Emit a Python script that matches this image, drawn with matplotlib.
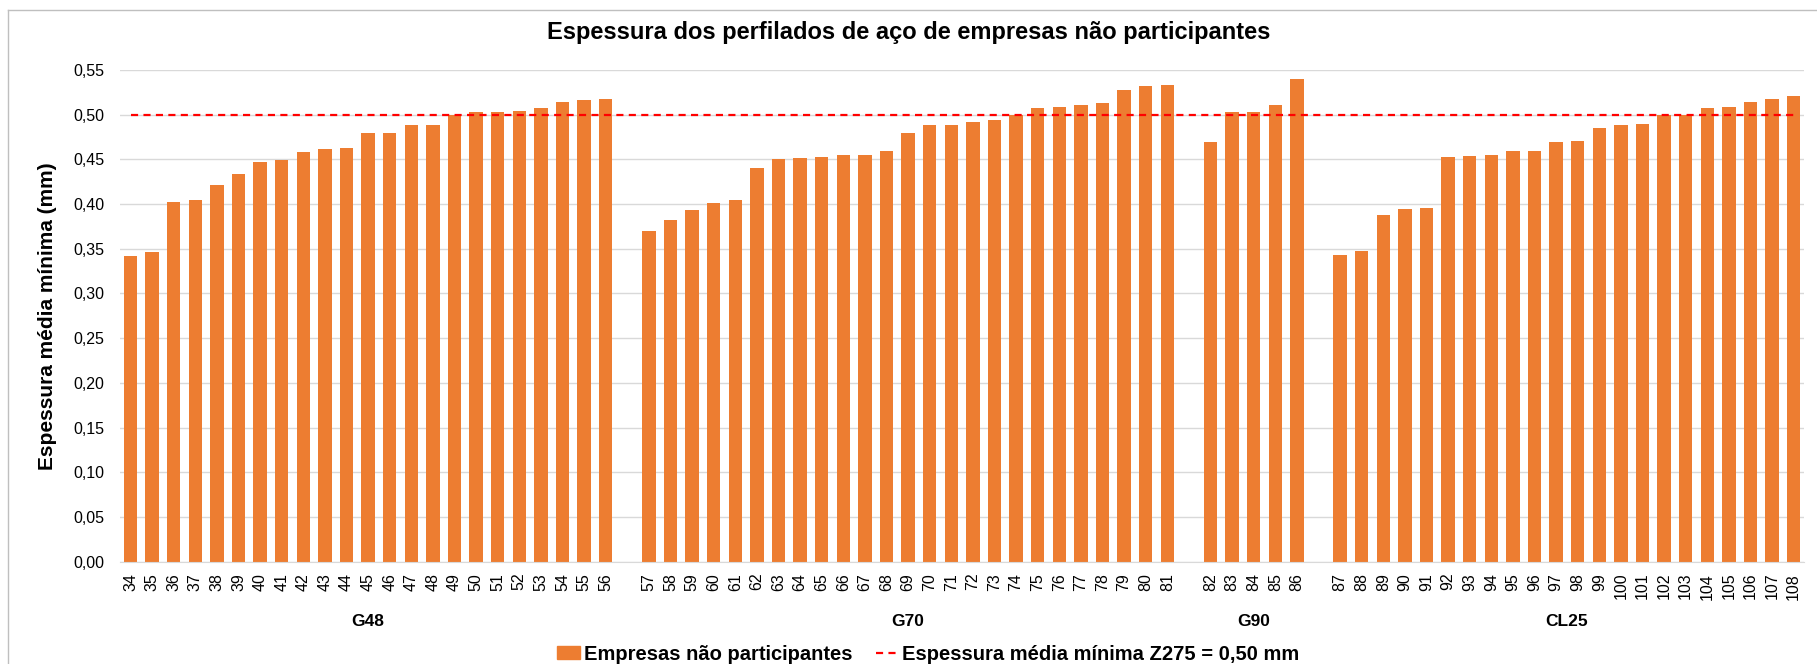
import matplotlib.pyplot as plt
from matplotlib.patches import Patch
from matplotlib.lines import Line2D
import numpy as np

plt.rcParams['font.family'] = ['Liberation Sans', 'DejaVu Sans']

# data
groups = ['G48', 'G70', 'G90', 'CL25']

g48_ids = list(range(34, 57))
g48_vals = [0.342, 0.346, 0.402, 0.405, 0.421, 0.434, 0.447, 0.449, 0.458, 0.462,
            0.463, 0.479, 0.480, 0.488, 0.489, 0.500, 0.503, 0.503, 0.504, 0.507,
            0.514, 0.516, 0.517]

g70_ids = list(range(57, 82))
g70_vals = [0.370, 0.382, 0.393, 0.401, 0.405, 0.440, 0.450, 0.452, 0.453, 0.455,
            0.455, 0.459, 0.480, 0.488, 0.488, 0.492, 0.494, 0.500, 0.507, 0.509,
            0.511, 0.513, 0.528, 0.532, 0.533]

g90_ids = list(range(82, 87))
g90_vals = [0.469, 0.503, 0.503, 0.511, 0.540]

cl25_ids = list(range(87, 109))
cl25_vals = [0.343, 0.347, 0.388, 0.395, 0.396, 0.453, 0.454, 0.455, 0.459, 0.459,
             0.469, 0.471, 0.485, 0.488, 0.490, 0.500, 0.500, 0.507, 0.509, 0.514,
             0.517, 0.521]

limit = 0.50

all_ids = [g48_ids, g70_ids, g90_ids, cl25_ids]
all_vals = [g48_vals, g70_vals, g90_vals, cl25_vals]

# positions: one empty slot between groups
positions, labels, values, centers = [], [], [], []
pos = 0
for ids, vals in zip(all_ids, all_vals):
    p = np.arange(pos, pos + len(ids))
    positions.extend(p)
    labels.extend([str(i) for i in ids])
    values.extend(vals)
    centers.append(p.mean())
    pos += len(ids) + 1

fig = plt.figure(figsize=(18.17, 6.64), dpi=100)
ax = fig.add_axes([0.0659, 0.1541, 0.9272, 0.7405])

ax.bar(positions, values, width=0.62, color='#ED7D31', zorder=2)
ax.plot([positions[0], positions[-1]], [limit, limit], color='#FF0000',
        lw=1.6, dashes=(3.2, 2.4), zorder=3)

ax.set_xlim(positions[0] - 0.5, positions[-1] + 0.5)
ax.set_ylim(0, 0.55)
yt = np.arange(0, 0.5501, 0.05)
ax.set_yticks(yt)
ax.set_yticklabels([f'{v:.2f}'.replace('.', ',') for v in yt])
ax.set_xticks(positions)
ax.set_xticklabels(labels, rotation=90)
ax.tick_params(axis='y', length=0, pad=11, labelsize=11.5)
ax.tick_params(axis='x', length=0, pad=8, labelsize=11.5)
ax.grid(axis='y', color='#d9d9d9', lw=1, zorder=0)
for s in ['top', 'right', 'left']:
    ax.spines[s].set_visible(False)
ax.spines['bottom'].set_color('#d9d9d9')

ax.set_ylabel('Espessura média mínima (mm)', fontsize=15, fontweight='bold', labelpad=12)

for c, g in zip(centers, groups):
    ax.text(c, -0.1226, g, transform=ax.get_xaxis_transform(), ha='center', va='center',
            fontsize=12.5, fontweight='bold')

fig.text(0.5, 1 - 33 / 664, 'Espessura dos perfilados de aço de empresas não participantes',
         ha='center', va='center', fontsize=17, fontweight='bold')

handles = [Patch(color='#ED7D31', label='Empresas não participantes'),
           Line2D([0], [0], color='#FF0000', lw=1.6, dashes=(3.2, 2.4),
                  label='Espessura média mínima Z275 = 0,50 mm')]
fig.legend(handles=handles, loc='center', bbox_to_anchor=(0.511, 1 - 654 / 664), ncol=2,
           frameon=False, prop={'size': 14.5, 'weight': 'bold'}, handlelength=1.1,
           handleheight=0.6, handletextpad=0.2, columnspacing=1.2,
           borderpad=0, borderaxespad=0)

# outer chart border
fig.add_artist(Line2D([8 / 1817, 8 / 1817], [0, 1 - 10 / 664], color='#bfbfbf', lw=1))
fig.add_artist(Line2D([8 / 1817, 1], [1 - 10 / 664, 1 - 10 / 664], color='#bfbfbf', lw=1))

fig.savefig('out.png', dpi=100)
